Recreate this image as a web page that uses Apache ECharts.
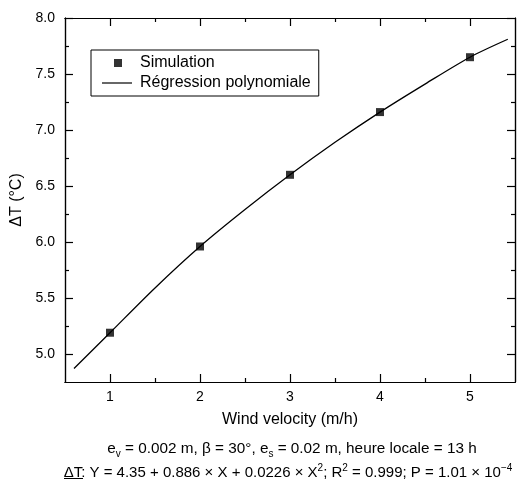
<!DOCTYPE html>
<html>
<head>
<meta charset="utf-8">
<script src="https://cdn.jsdelivr.net/npm/echarts@6/dist/echarts.min.js"></script>
<style>
  html, body { margin: 0; padding: 0; background: #fff; }
  #chart { width: 523px; height: 485px; }
</style>
</head>
<body>
<div id="chart"></div>
<script>
// simulated points
var simX = [1, 2, 3, 4, 5];
var simY = [5.19, 5.96, 6.60, 7.16, 7.65];
// regression curve
var fitX = [0.6, 1.0, 1.5, 2.0, 2.5, 3.0, 3.5, 4.0, 4.5, 5.0, 5.42];
var fitY = [4.87, 5.19, 5.59, 5.96, 6.29, 6.60, 6.89, 7.16, 7.41, 7.65, 7.81];
// ticks
var xMajor = [1, 2, 3, 4, 5];
var xMinor = [1.5, 2.5, 3.5, 4.5];
var yMajor = [5.0, 5.5, 6.0, 6.5, 7.0, 7.5, 8.0];
var yMinor = [5.25, 5.75, 6.25, 6.75, 7.25, 7.75];

var font = 'Liberation Sans, Arial, Helvetica, sans-serif';
var axisCol = '#000';

function zip(a, b) {
  return a.map(function (v, i) { return [v, b[i]]; });
}

function xAx(pos, ticks, len, labels) {
  return {
    type: 'value', position: pos, min: 0.5, max: 5.5,
    axisLine: { show: true, onZero: false, lineStyle: { color: axisCol, width: 1.2 } },
    axisTick: { show: true, inside: true, length: len, customValues: ticks, lineStyle: { color: axisCol, width: 1.2 } },
    axisLabel: labels ? { show: true, customValues: xMajor, margin: 8, color: '#000', fontSize: 14, fontFamily: font } : { show: false },
    splitLine: { show: false }
  };
}
function yAx(pos, ticks, len, labels) {
  return {
    type: 'value', position: pos, min: 4.75, max: 8.0,
    axisLine: { show: true, onZero: false, lineStyle: { color: axisCol, width: 1.2 } },
    axisTick: { show: true, inside: true, length: len, customValues: ticks, lineStyle: { color: axisCol, width: 1.2 } },
    axisLabel: labels ? {
      show: true, customValues: yMajor, margin: 10, color: '#000', fontSize: 14, fontFamily: font,
      formatter: function (v) { return v.toFixed(1); }
    } : { show: false },
    splitLine: { show: false }
  };
}

var xAxes = [
  xAx('bottom', xMajor, 8, true),
  xAx('bottom', xMinor, 4, false),
  xAx('top', xMajor, 8, false),
  xAx('top', xMinor, 4, false)
];
xAxes[0].name = 'Wind velocity (m/h)';
xAxes[0].nameLocation = 'middle';
xAxes[0].nameGap = 30;
xAxes[0].nameTextStyle = { color: '#000', fontSize: 16, fontFamily: font };

var yAxes = [
  yAx('left', yMajor, 8, true),
  yAx('left', yMinor, 4, false),
  yAx('right', yMajor, 8, false),
  yAx('right', yMinor, 4, false)
];
yAxes[0].name = 'ΔT (°C)';
yAxes[0].nameLocation = 'middle';
yAxes[0].nameGap = 40;
yAxes[0].nameTextStyle = { color: '#000', fontSize: 16, fontFamily: font };

// legend icons: invisible move-to corners fix the box, the visible part sits inside
var squareIcon = 'path://M0,0 M33,14 M12,3h8v8h-8z';
var lineIcon = 'path://M0,0 M33,14 M0,6.4h30v1.2h-30z';

var chart = echarts.init(document.getElementById('chart'), null, { renderer: 'canvas' });
chart.setOption({
  animation: false,
  backgroundColor: '#fff',
  grid: { left: 65, right: 8, top: 18, bottom: 103, containLabel: false },
  xAxis: xAxes,
  yAxis: yAxes,
  legend: {
    orient: 'vertical',
    left: 91, top: 50,
    padding: [5, 8, 5, 11],
    itemGap: 4,
    itemWidth: 33,
    itemHeight: 14,
    borderColor: '#000',
    borderWidth: 1,
    textStyle: { color: '#000', fontSize: 16, fontFamily: font },
    data: [
      { name: 'Simulation', icon: squareIcon, itemStyle: { color: '#000' } },
      { name: 'Régression polynomiale', icon: lineIcon, itemStyle: { color: '#000' } }
    ]
  },
  graphic: [
    {
      type: 'text', x: 292, y: 439,
      style: {
        text: 'e{sub|v} = 0.002 m, β = 30°, e{sub|s} = 0.02 m, heure locale = 13 h',
        align: 'center',
        fontSize: 15.3, fontFamily: font, fill: '#000', lineHeight: 20,
        rich: {
          sub: { fontSize: 10, lineHeight: 11, verticalAlign: 'bottom', fontFamily: font, fill: '#000' }
        }
      }
    },
    {
      type: 'text', x: 288, y: 463,
      style: {
        text: 'ΔT: Y = 4.35 + 0.886 × X + 0.0226 × X{sup|2}; R{sup|2} = 0.999; P = 1.01 × 10{sup|−4}',
        align: 'center',
        fontSize: 15, fontFamily: font, fill: '#000', lineHeight: 20,
        rich: {
          sup: { fontSize: 10, lineHeight: 11, verticalAlign: 'top', fontFamily: font, fill: '#000' }
        }
      }
    },
    {
      type: 'line', shape: { x1: 64, y1: 478.5, x2: 83, y2: 478.5 },
      style: { stroke: '#000', lineWidth: 1 }
    }
  ],
  series: [
    {
      name: 'Régression polynomiale',
      type: 'line',
      data: zip(fitX, fitY),
      smooth: 0.3,
      symbol: 'none',
      showSymbol: false,
      lineStyle: { color: '#000', width: 1.3 },
      itemStyle: { color: '#000' },
      z: 2
    },
    {
      name: 'Simulation',
      type: 'scatter',
      data: zip(simX, simY),
      symbol: 'rect',
      symbolSize: 8,
      itemStyle: { color: '#000' },
      z: 3
    }
  ]
});
</script>
</body>
</html>
